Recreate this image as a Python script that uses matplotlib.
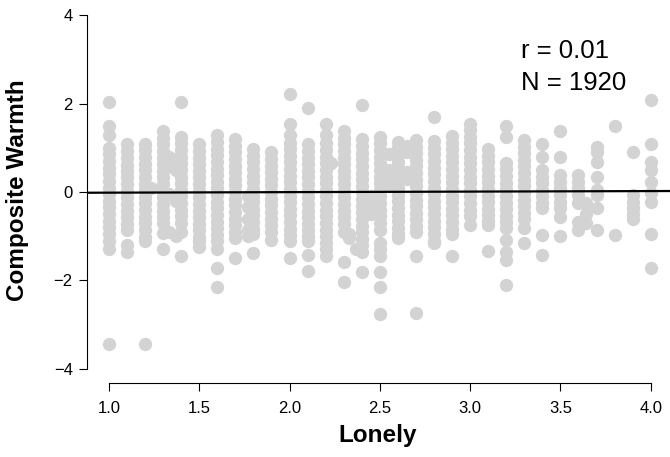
import matplotlib
matplotlib.use("Agg")
import matplotlib.pyplot as plt
import numpy as np

# ---- data (Lonely level -> Composite Warmth values) ----
w_100 = [2.03, 1.50, 1.30, 1.0, 0.85, 0.7, 0.55, 0.4, 0.25, 0.1, -0.05, -0.2, -0.35, -0.5, -0.65, -0.8, -0.95, -1.1, -1.3, -3.45]
w_110 = [1.08, 0.92, 0.78, 0.62, 0.48, 0.33, 0.18, 0.03, -0.12, -0.27, -0.42, -0.57, -0.72, -0.85, -1.2, -1.35]
w_120 = [1.09, 0.94, 0.79, 0.64, 0.49, 0.34, 0.19, 0.04, -0.11, -0.26, -0.41, -0.56, -0.71, -0.86, -1.01, -1.12, -3.45]
w_123 = [0.1]
w_130 = [1.38, 1.23, 1.08, 0.93, 0.78, 0.63, 0.48, 0.33, 0.18, 0.03, -0.12, -0.27, -0.42, -0.57, -0.7, -0.92, -1.28]
w_133 = [0.8, 0.6, -0.05, -0.9]
w_137 = [0.75, 0.5, -0.2, -1.0]
w_140 = [2.03, 1.25, 1.1, 0.95, 0.8, 0.65, 0.5, 0.35, 0.2, 0.05, -0.1, -0.25, -0.4, -0.55, -0.7, -0.9, -1.44]
w_150 = [1.08, 0.93, 0.78, 0.63, 0.48, 0.33, 0.18, 0.03, -0.12, -0.27, -0.42, -0.57, -0.72, -0.87, -1.02, -1.12, -1.24]
w_160 = [1.28, 1.13, 0.98, 0.83, 0.68, 0.53, 0.38, 0.23, 0.08, -0.07, -0.22, -0.37, -0.52, -0.67, -0.82, -0.97, -1.1, -1.28, -1.73, -2.14]
w_170 = [1.2, 1.05, 0.9, 0.75, 0.6, 0.45, 0.3, 0.15, 0.0, -0.15, -0.3, -0.45, -0.6, -0.75, -0.9, -1.05, -1.49]
w_177 = [-0.1, -0.35, -0.6, -0.85, -1.0]
w_180 = [0.97, 0.82, 0.67, 0.52, 0.37, 0.22, 0.07, -0.08, -0.23, -0.38, -0.53, -0.68, -0.83, -0.95, -1.37]
w_190 = [0.90, 0.75, 0.6, 0.45, 0.3, 0.15, 0.0, -0.15, -0.3, -0.45, -0.6, -0.75, -0.9, -1.09]
w_200 = [2.21, 1.55, 1.29, 1.12, 0.97, 0.82, 0.67, 0.52, 0.37, 0.22, 0.07, -0.08, -0.23, -0.38, -0.53, -0.68, -0.83, -0.98, -1.12, -1.49]
w_210 = [1.91, 1.08, 0.93, 0.78, 0.63, 0.48, 0.33, 0.18, 0.03, -0.12, -0.27, -0.42, -0.57, -0.72, -0.87, -1.0, -1.12, -1.43, -1.78]
w_220 = [1.55, 1.29, 1.1, 0.95, 0.8, 0.65, 0.5, 0.35, 0.2, 0.05, -0.1, -0.25, -0.4, -0.55, -0.7, -0.85, -1.0, -1.15, -1.28, -1.46]
w_223 = [0.65]
w_230 = [1.38, 1.23, 1.08, 0.93, 0.78, 0.63, 0.48, 0.33, 0.18, 0.03, -0.12, -0.27, -0.42, -0.57, -0.72, -0.9, -1.59, -2.03]
w_233 = [-0.95, -1.05]
w_237 = [-1.3]
w_240 = [1.97, 1.19, 1.04, 0.89, 0.74, 0.59, 0.44, 0.29, 0.14, -0.01, -0.16, -0.31, -0.46, -0.61, -0.76, -0.91, -1.06, -1.2, -1.35, -1.8]
w_245 = [-0.1, -0.3, -0.5]
w_250 = [1.25, 1.1, 0.95, 0.8, 0.65, 0.5, 0.35, 0.2, 0.05, -0.1, -0.25, -0.4, -0.55, -0.7, -0.85, -1.15, -1.3, -1.45, -1.8, -2.14, -2.77]
w_255 = [0.85, 0.5, 0.3, 0.15]
w_260 = [1.14, 0.99, 0.84, 0.69, 0.54, 0.39, 0.24, 0.09, -0.06, -0.21, -0.36, -0.51, -0.66, -0.81, -0.96, -1.05]
w_265 = [1.05, 0.9, 0.45, 0.3]
w_270 = [1.18, 1.03, 0.88, 0.73, 0.58, 0.43, 0.28, 0.13, -0.02, -0.17, -0.32, -0.47, -0.62, -0.77, -0.9, -1.44, -2.75]
w_280 = [1.69, 1.15, 1.0, 0.85, 0.7, 0.55, 0.4, 0.25, 0.1, -0.05, -0.2, -0.35, -0.5, -0.65, -0.8, -0.95, -1.1, -1.16]
w_290 = [1.27, 1.12, 0.97, 0.82, 0.67, 0.52, 0.37, 0.22, 0.07, -0.08, -0.23, -0.38, -0.53, -0.68, -0.83, -0.94, -1.46]
w_300 = [1.55, 1.4, 1.25, 1.1, 0.95, 0.8, 0.65, 0.5, 0.35, 0.2, 0.05, -0.1, -0.25, -0.4, -0.55, -0.75]
w_310 = [0.97, 0.82, 0.67, 0.52, 0.37, 0.22, 0.07, -0.08, -0.23, -0.38, -0.53, -0.65, -0.75, -1.33]
w_320 = [1.50, 1.25, 0.66, 0.51, 0.36, 0.21, 0.06, -0.09, -0.24, -0.39, -0.54, -0.69, -0.82, -1.09, -1.35, -1.54, -2.1]
w_330 = [1.18, 1.03, 0.88, 0.73, 0.58, 0.43, 0.28, 0.13, -0.02, -0.17, -0.32, -0.47, -0.6, -0.82, -1.15]
w_340 = [1.09, 0.8, 0.5, 0.35, 0.2, 0.05, -0.1, -0.25, -0.37, -0.97, -1.43]
w_350 = [1.39, 0.8, 0.38, 0.23, 0.08, -0.07, -0.22, -0.37, -0.56, -1.0]
w_360 = [0.38, 0.23, 0.08, -0.07, -0.26, -0.67, -0.86]
w_364 = [-0.25, -0.5, -0.7]
w_370 = [1.03, 0.91, 0.67, 0.35, 0.05, -0.07, -0.37, -0.86]
w_380 = [1.50, -0.97]
w_390 = [0.91, -0.07, -0.22, -0.37, -0.5, -0.6]
w_400 = [2.08, 1.09, 0.69, 0.5, 0.22, -0.03, -0.23, -0.94, -1.71]

lonely_levels = [1.0, 1.1, 1.2, 1.23, 1.3, 1.33, 1.37, 1.4, 1.5, 1.6, 1.7, 1.77, 1.8, 1.9,
                 2.0, 2.1, 2.2, 2.23, 2.3, 2.33, 2.37, 2.4, 2.45, 2.5, 2.55, 2.6, 2.65,
                 2.7, 2.8, 2.9, 3.0, 3.1, 3.2, 3.3, 3.4, 3.5, 3.6, 3.64, 3.7, 3.8, 3.9, 4.0]
warmth_columns = [w_100, w_110, w_120, w_123, w_130, w_133, w_137, w_140, w_150, w_160, w_170,
                  w_177, w_180, w_190, w_200, w_210, w_220, w_223, w_230, w_233, w_237, w_240,
                  w_245, w_250, w_255, w_260, w_265, w_270, w_280, w_290, w_300, w_310,
                  w_320, w_330, w_340, w_350, w_360, w_364, w_370, w_380, w_390, w_400]

fit_intercept = -0.027
fit_slope = 0.012

x_ticks = [1.0, 1.5, 2.0, 2.5, 3.0, 3.5, 4.0]
x_ticklabels = ["1.0", "1.5", "2.0", "2.5", "3.0", "3.5", "4.0"]
y_ticks = [-4, -2, 0, 2, 4]

annot_r = "r = 0.01"
annot_n = "N = 1920"

# ---- assemble ----
xs = []
ys = []
for lv, col in zip(lonely_levels, warmth_columns):
    xs.extend([lv] * len(col))
    ys.extend(col)

plt.rcParams['font.family'] = ['Liberation Sans', 'DejaVu Sans']

W, H = 670, 457
fig = plt.figure(figsize=(W / 100, H / 100), dpi=100)
left_px, right_px = 87.3, 672.4
top_px, bot_px = 1.2, 382.8
ax = fig.add_axes([left_px / W, 1 - bot_px / H, (right_px - left_px) / W, (bot_px - top_px) / H])
ax.set_xlim(0.88, 4.12)
ax.set_ylim(-4.32, 4.32)

ax.scatter(xs, ys, s=92, c='#d3d3d3', linewidths=0, zorder=2)
ax.axline((0, fit_intercept), slope=fit_slope, color='black', lw=1.6, zorder=3)

for s in ['top', 'right']:
    ax.spines[s].set_visible(False)
ax.spines['left'].set_bounds(-4, 4)
ax.spines['bottom'].set_bounds(1, 4)
for s in ['left', 'bottom']:
    ax.spines[s].set_linewidth(0.8)

ax.set_xticks(x_ticks)
ax.set_xticklabels(x_ticklabels)
ax.set_yticks(y_ticks)
ax.tick_params(axis='both', length=5.5, width=0.8, labelsize=12, colors='black')
ax.tick_params(axis='x', pad=7.5)
ax.tick_params(axis='y', pad=5)

ax.text(3.282, 3.03, annot_r, fontsize=18.5, ha='left', va='baseline')
ax.text(3.282, 2.31, annot_n, fontsize=18.5, ha='left', va='baseline')

fig.text(17.5 / W, 1 - 190.5 / H, "Composite Warmth", rotation=90, ha='center', va='center',
         fontsize=17.5, fontweight='bold')
fig.text(378 / W, 1 - 442 / H, "Lonely", ha='center', va='baseline', fontsize=17.5, fontweight='bold')

fig.savefig("out.png", dpi=100)
